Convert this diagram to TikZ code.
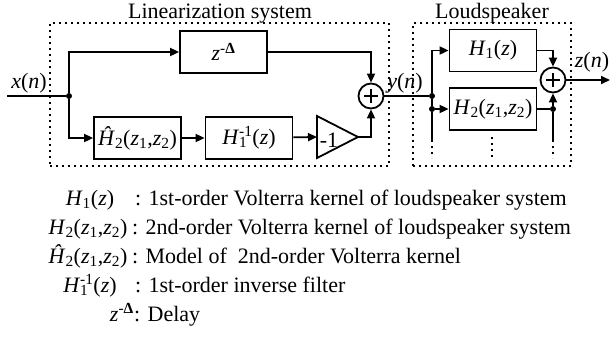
\documentclass[tikz,border=0pt]{standalone}
\usepackage{fontspec}
\setmainfont{Liberation Serif}
\usetikzlibrary{arrows.meta}
\newcommand{\Hone}{\textit{H}\textsubscript{1}(\textit{z})}
\newcommand{\Htwo}{\textit{H}\textsubscript{2}(\textit{z}\textsubscript{1},\textit{z}\textsubscript{2})}
\newcommand{\Hhattwo}{\textit{\^H}\textsubscript{2}(\textit{z}\textsubscript{1},\textit{z}\textsubscript{2})}
\newcommand{\Hinv}{\textit{H}\makebox[0pt][l]{\textsubscript{1}}\textsuperscript{-1}(\textit{z})}
\newcommand{\zdelay}{\textit{z}\textsuperscript{-\textbf{Δ}}}

\begin{document}
\begin{tikzpicture}[x=1pt,y=-1pt,
  every node/.style={font=\fontsize{22}{26}\selectfont},
  blk/.style={draw, line width=1.8pt, inner sep=0pt, minimum width=87pt, minimum height=42pt},
  wire/.style={line width=1.8pt},
  sig/.style={line width=1.8pt, -{Triangle[length=9pt,width=8pt]}},
  group/.style={line width=1.8pt, dash pattern=on 2pt off 4pt},
  sumnode/.style={draw, circle, line width=1.8pt, minimum size=25pt, inner sep=0pt},
  dot/.style={circle, fill, inner sep=0pt, minimum size=6pt},
  txt/.style={inner sep=0pt, anchor=base},
  leg/.style={inner sep=0pt, anchor=base west}]
\useasboundingbox (0,0) rectangle (612,349);
\node[group, draw, inner sep=0pt, minimum width=339pt, minimum height=143pt] (lin) at (219.5,94.5) {};
\node[group, draw, inner sep=0pt, minimum width=158pt, minimum height=143pt] (spk) at (492,94.5) {};
\node[txt] (lintitle) at (220,18) {Linearization system};
\node[txt] (spktitle) at (492,18) {Loudspeaker};
\node[blk] (delay) at (223.5,52) {\zdelay};
\node[blk] (hhat) at (137.5,138) {\Hhattwo};
\node[blk] (hinv) at (249,138) {\Hinv};
\node[blk] (hone) at (493,50.5) {\Hone};
\node[blk] (htwo) at (493,109) {\Htwo};
\draw[wire, fill=white] (317,116) -- (358,137) -- (317,158) -- cycle;
\node[txt] (gain) at (329,147) {-1};
\coordinate (gin) at (317,137);
\coordinate (gout) at (358,137);
\node[sumnode] (sum1) at (371,96) {};
\node[sumnode] (sum2) at (553,80) {};
\draw[wire] (sum1.center) ++(-7,0) -- ++(14,0);
\draw[wire] (sum1.center) ++(0,-7) -- ++(0,14);
\draw[wire] (sum2.center) ++(-7,0) -- ++(14,0);
\draw[wire] (sum2.center) ++(0,-7) -- ++(0,14);
\coordinate (xin) at (7,96);
\node[dot] (j1) at (69,96) {};
\node[dot] (j2) at (432,96) {};
\node[dot] (j3) at (432,109) {};
\node[dot] (j4) at (553,109) {};
\coordinate (zout) at (610,80);
\node[txt] (xlab) at (29,88) {\textit{x}(\textit{n})};
\node[txt] (ylab) at (405,88) {\textit{y}(\textit{n})};
\node[txt] (zlab) at (592,67) {\textit{z}(\textit{n})};
\draw[wire] (xin) -- (j1);
\draw[sig] (j1) |- (delay.west);
\draw[sig] (j1) |- (hhat.west);
\draw[sig] (hhat) -- (hinv);
\draw[sig] (hinv) -- (gin);
\draw[sig] (gout) -| (sum1);
\draw[sig] (delay) -| (sum1);
\draw[wire] (sum1) -- (j2);
\draw[sig] (j2) |- (hone.west);
\draw[wire] (j2) -- (j3);
\draw[sig] (j3) -- (htwo.west);
\draw[sig] (hone) -| (sum2);
\draw[wire] (htwo) -- (j4);
\draw[sig] (j4) -- (sum2);
\draw[sig] (sum2) -- (zout);
\coordinate (s1) at (432,140);
\coordinate (s1e) at (432,158);
\coordinate (s2) at (492,137);
\coordinate (s2e) at (492,158);
\coordinate (s3) at (553,140);
\coordinate (s3e) at (553,158);
\draw[wire] (j3) -- (s1);
\draw[group] (s1) -- (s1e);
\draw[group] (s2) -- (s2e);
\draw[wire] (j4) -- (s3);
\draw[group] (s3) -- (s3e);
\node[txt] (k1) at (90,205) {\Hone};
\node[txt] (k2) at (88,234) {\Htwo};
\node[txt] (k3) at (88,263) {\Hhattwo};
\node[txt] (k4) at (90,292) {\Hinv};
\node[txt, anchor=base east] (k5) at (134,321) {\zdelay};
\node[leg] (d1) at (135,205) {: 1st-order Volterra kernel of loudspeaker system};
\node[leg] (d2) at (132,234) {: 2nd-order Volterra kernel of loudspeaker system};
\node[leg] (d3) at (132,263) {: Model of\ \ 2nd-order Volterra kernel};
\node[leg] (d4) at (135,292) {: 1st-order inverse filter};
\node[leg] (d5) at (134,321) {: Delay};
\end{tikzpicture}
\end{document}
